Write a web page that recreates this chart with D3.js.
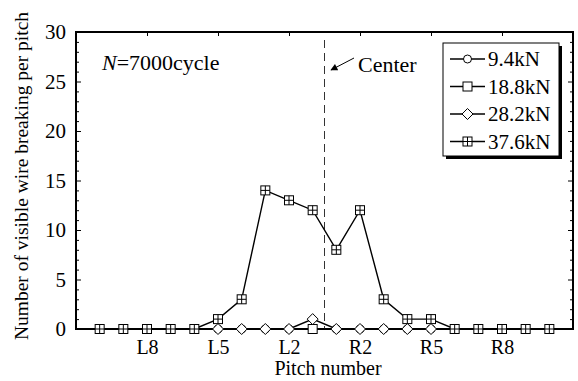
<!DOCTYPE html>
<html>
<head>
<meta charset="utf-8">
<script src="https://cdn.jsdelivr.net/npm/d3@7"></script>
<style>
  html, body { margin: 0; padding: 0; background: #fff; }
  svg { display: block; }
  svg text { font-family: "Liberation Serif", "Times New Roman", serif; }
</style>
</head>
<body>
<svg id="chart" width="578" height="381"></svg>
<script>
// Pitch positions, left side L10..L1 then right side R1..R10
const pitches = ["L10","L9","L8","L7","L6","L5","L4","L3","L2","L1",
                 "R1","R2","R3","R4","R5","R6","R7","R8","R9","R10"];
const tickPitches = ["L8","L5","L2","R2","R5","R8"];
const yTicks = [0, 5, 10, 15, 20, 25, 30];

// Broken wires per pitch at N = 7000 cycles (null = not recorded)
const load9_4  = [null,null,null,null,null,0,0,0,0,0,0,0,0,0,0,null,null,null,null,null];
const load18_8 = [null,null,null,null,null,null,null,null,null,0,null,null,null,null,null,null,null,null,null,null];
const load28_2 = [null,null,null,null,null,0,0,0,0,1,0,0,0,0,0,null,null,null,null,null];
const load37_6 = [0,0,0,0,0,1,3,14,13,12,8,12,3,1,1,0,0,0,0,0];

const seriesNames = ["9.4kN","18.8kN","28.2kN","37.6kN"];
const seriesValues = [load9_4, load18_8, load28_2, load37_6];
const markerKinds = ["circle","square","diamond","crossSquare"];

const FONT = "Liberation Serif";
const svg = d3.select("#chart");
const M = { left: 76, right: 573, top: 32, bottom: 329 };

const x = d3.scaleLinear().domain([0, pitches.length + 1]).range([M.left, M.right]);
const y = d3.scaleLinear().domain([0, 30]).range([M.bottom, M.top]);
const pos = p => pitches.indexOf(p) + 1;

// Marker drawing helper
function marker(g, kind, cx, cy) {
  const s = g.append("g").attr("transform", `translate(${cx},${cy})`);
  if (kind === "circle") {
    s.append("circle").attr("r", 4).attr("fill", "#fff").attr("stroke", "#000").attr("stroke-width", 1);
  } else if (kind === "square") {
    s.append("rect").attr("x", -4.5).attr("y", -4.5).attr("width", 9).attr("height", 9)
      .attr("fill", "#fff").attr("stroke", "#000").attr("stroke-width", 1);
  } else if (kind === "diamond") {
    s.append("path").attr("d", "M0,-5.5L5.5,0L0,5.5L-5.5,0Z")
      .attr("fill", "#fff").attr("stroke", "#000").attr("stroke-width", 1);
  } else {
    s.append("rect").attr("x", -4.5).attr("y", -4.5).attr("width", 9).attr("height", 9)
      .attr("fill", "#fff").attr("stroke", "#000").attr("stroke-width", 1);
    s.append("path").attr("d", "M0,-4.5V4.5M-4.5,0H4.5").attr("stroke", "#000").attr("stroke-width", 1);
  }
}

// Axes with inward ticks on all four sides
const xTickVals = tickPitches.map(pos);
svg.append("g").attr("transform", `translate(0,${M.bottom})`)
  .call(d3.axisBottom(x).tickValues(xTickVals).tickSizeInner(-4).tickSizeOuter(0)
        .tickFormat(v => pitches[v - 1]))
  .call(g => g.select(".domain").remove())
  .call(g => g.selectAll("text").attr("y", 11).attr("font-size", 20).attr("font-family", FONT));
svg.append("g").attr("transform", `translate(0,${M.top})`)
  .call(d3.axisTop(x).tickValues(xTickVals).tickSizeInner(-4).tickSizeOuter(0).tickFormat(""))
  .call(g => g.select(".domain").remove());

const minorY = d3.range(0, 31, 1).filter(v => v % 5 !== 0);
svg.append("g").attr("transform", `translate(${M.left},0)`)
  .call(d3.axisLeft(y).tickValues(yTicks).tickSizeInner(-5).tickSizeOuter(0).tickPadding(10))
  .call(g => g.select(".domain").remove())
  .call(g => g.selectAll("text").attr("font-size", 21).attr("font-family", FONT));
svg.append("g").attr("transform", `translate(${M.left},0)`)
  .call(d3.axisLeft(y).tickValues(minorY).tickSizeInner(-3).tickSizeOuter(0).tickFormat(""))
  .call(g => g.select(".domain").remove());
svg.append("g").attr("transform", `translate(${M.right},0)`)
  .call(d3.axisRight(y).tickValues(yTicks).tickSizeInner(-5).tickSizeOuter(0).tickFormat(""))
  .call(g => g.select(".domain").remove());
svg.append("g").attr("transform", `translate(${M.right},0)`)
  .call(d3.axisRight(y).tickValues(minorY).tickSizeInner(-3).tickSizeOuter(0).tickFormat(""))
  .call(g => g.select(".domain").remove());
svg.selectAll(".tick line").attr("stroke", "#000").attr("stroke-width", 1);

// Plot frame
svg.append("rect").attr("x", M.left).attr("y", M.top)
  .attr("width", M.right - M.left).attr("height", M.bottom - M.top)
  .attr("fill", "none").attr("stroke", "#000").attr("stroke-width", 2);

// Centre line
svg.append("line").attr("x1", x(10.5)).attr("x2", x(10.5))
  .attr("y1", 40).attr("y2", M.bottom)
  .attr("stroke", "#333").attr("stroke-width", 1).attr("stroke-dasharray", "8,5");

// Series lines and markers
const line = d3.line().defined(d => d.v !== null).x(d => x(d.i)).y(d => y(d.v));
seriesValues.forEach((vals, k) => {
  const pts = vals.map((v, i) => ({ i: i + 1, v }));
  svg.append("path").datum(pts).attr("d", line)
    .attr("fill", "none").attr("stroke", "#000").attr("stroke-width", 1.4);
  const g = svg.append("g");
  pts.filter(d => d.v !== null).forEach(d => marker(g, markerKinds[k], x(d.i), y(d.v)));
});

// Annotations
svg.append("text").attr("x", 102).attr("y", 70).attr("font-size", 22).attr("font-family", FONT)
  .html('<tspan font-style="italic">N</tspan>=7000cycle');
svg.append("text").attr("x", 358).attr("y", 72).attr("font-size", 22).attr("font-family", FONT).text("Center");
svg.append("defs").append("marker").attr("id", "arrow")
  .attr("viewBox", "0 0 10 10").attr("refX", 9).attr("refY", 5)
  .attr("markerWidth", 9).attr("markerHeight", 7).attr("orient", "auto")
  .attr("markerUnits", "userSpaceOnUse")
  .append("path").attr("d", "M0,0L10,5L0,10Z").attr("fill", "#000");
svg.append("line").attr("x1", 354).attr("y1", 58).attr("x2", 331).attr("y2", 70)
  .attr("stroke", "#000").attr("stroke-width", 1).attr("marker-end", "url(#arrow)");

// Legend with drop shadow
const L = { x: 443, y: 43, w: 116, h: 113 };
svg.append("rect").attr("x", L.x + 3).attr("y", L.y + 3).attr("width", L.w).attr("height", L.h).attr("fill", "#000");
svg.append("rect").attr("x", L.x).attr("y", L.y).attr("width", L.w).attr("height", L.h)
  .attr("fill", "#fff").attr("stroke", "#000").attr("stroke-width", 1);
seriesNames.forEach((name, k) => {
  const ly = 59 + k * 27.5;
  svg.append("line").attr("x1", 450).attr("x2", 485).attr("y1", ly).attr("y2", ly)
    .attr("stroke", "#000").attr("stroke-width", 1.4);
  marker(svg, markerKinds[k], 467.5, ly);
  svg.append("text").attr("x", 488).attr("y", ly + 7).attr("font-size", 21)
    .attr("font-family", FONT).text(name);
});

// Axis titles
svg.append("text").attr("x", 328).attr("y", 375).attr("text-anchor", "middle")
  .attr("font-size", 20).attr("font-family", FONT).text("Pitch number");
svg.append("text").attr("transform", "translate(28,176) rotate(-90)")
  .attr("text-anchor", "middle").attr("font-size", 19.5).attr("font-family", FONT)
  .text("Number of visible wire breaking per pitch");
</script>
</body>
</html>
